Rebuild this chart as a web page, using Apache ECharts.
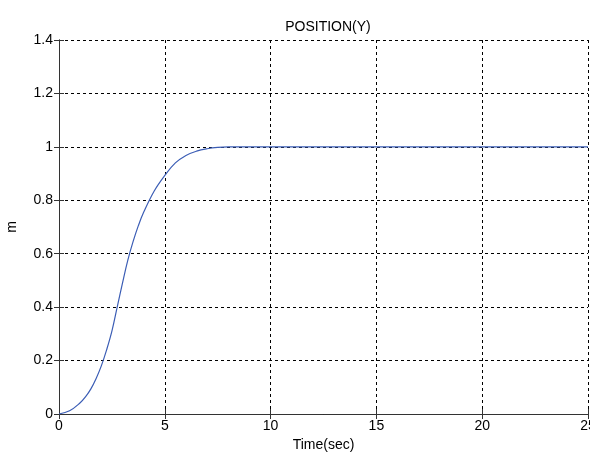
<!DOCTYPE html>
<html>
<head>
<meta charset="utf-8">
<script src="https://cdn.jsdelivr.net/npm/echarts@6/dist/echarts.min.js"></script>
<style>html,body{margin:0;padding:0;background:#fff;}#c{width:590px;height:455px;}</style>
</head>
<body>
<div id="c"></div>
<script>
const titleText = 'POSITION(Y)';
const xLabel = 'Time(sec)';
const yLabel = 'm';
const timeValues = [0, 0.5, 1, 1.25, 1.5, 1.75, 2, 2.25, 2.5, 2.75, 3, 3.25, 3.5, 3.75, 4, 4.5, 5, 5.5, 6, 6.5, 7, 7.5, 8, 25];
const positionValues = [0, 0.012, 0.042, 0.064, 0.093, 0.132, 0.18, 0.24, 0.31, 0.40, 0.49, 0.575, 0.645, 0.705, 0.755, 0.835, 0.893, 0.94, 0.968, 0.984, 0.993, 0.998, 1.0, 1.0];

const font = 'Liberation Sans, Arial, sans-serif';
const chart = echarts.init(document.getElementById('c'), null, {renderer: 'canvas'});
const data = timeValues.map((t, i) => [t, positionValues[i]]);
const dashed = {show: true, lineStyle: {color: '#000', type: [3, 3], width: 1}};
chart.setOption({
  animation: false,
  backgroundColor: '#fff',
  title: {text: titleText, left: 323, textAlign: 'center', top: 15,
    textStyle: {fontFamily: font, fontSize: 14, fontWeight: 'normal', color: '#000'}},
  grid: {left: 59, right: 2, top: 40, bottom: 41, containLabel: false, outerBoundsMode: 'none'},
  xAxis: [{
    type: 'value', min: 0, max: 25, interval: 5,
    name: xLabel, nameLocation: 'middle', nameGap: 22,
    nameTextStyle: {fontFamily: font, fontSize: 14, color: '#000'},
    axisLine: {show: true, onZero: false, lineStyle: {color: '#333', width: 1}},
    axisTick: {show: true, inside: true, length: 5, lineStyle: {color: '#333'}},
    axisLabel: {fontFamily: font, fontSize: 14, color: '#000', margin: 5, hideOverlap: false},
    splitLine: dashed
  }, {
    type: 'value', position: 'top', min: 0, max: 25, interval: 5,
    axisLine: {show: true, lineStyle: {color: '#333', width: 1}},
    axisTick: {show: true, inside: true, length: 5, lineStyle: {color: '#333'}},
    axisLabel: {show: false}, splitLine: {show: false}
  }],
  yAxis: [{
    type: 'value', min: 0, max: 1.4, interval: 0.2,
    name: yLabel, nameLocation: 'middle', nameGap: 40, nameRotate: 90,
    nameTextStyle: {fontFamily: font, fontSize: 14, color: '#000'},
    axisLine: {show: true, onZero: false, lineStyle: {color: '#333', width: 1}},
    axisTick: {show: true, inside: true, length: 5, lineStyle: {color: '#333'}},
    axisLabel: {fontFamily: font, fontSize: 14, color: '#000', margin: 6,
      formatter: v => String(Math.round(v * 10) / 10)},
    splitLine: dashed
  }, {
    type: 'value', position: 'right', min: 0, max: 1.4, interval: 0.2,
    axisLine: {show: true, lineStyle: {color: '#333', width: 1}},
    axisTick: {show: true, inside: true, length: 5, lineStyle: {color: '#333'}},
    axisLabel: {show: false}, splitLine: {show: false}
  }],
  series: [{
    type: 'line', data: data, smooth: 0.4, showSymbol: false,
    lineStyle: {color: '#3b5db5', width: 1.2}
  }]
});
</script>
</body>
</html>
